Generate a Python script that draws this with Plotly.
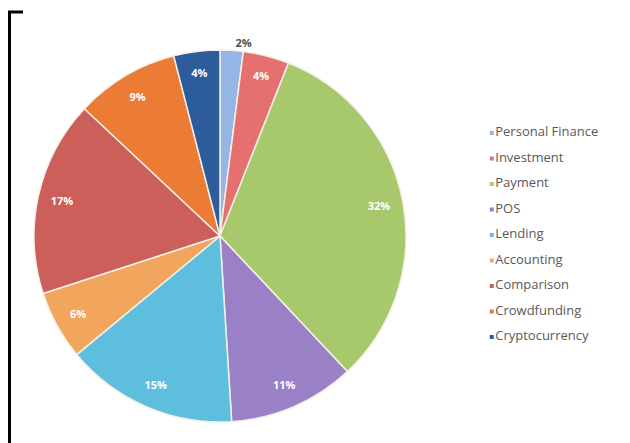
import plotly.graph_objects as go

categories = ["Personal Finance", "Investment", "Payment", "POS", "Lending",
              "Accounting", "Comparison", "Crowdfunding", "Cryptocurrency"]
shares = [2, 4, 32, 11, 15, 6, 17, 9, 4]
colors = ["#93B6E4", "#E4706F", "#A8C96B", "#9A80C6", "#5EBEDD",
          "#F2A55C", "#CD5F5B", "#EC7B36", "#2C5C9C"]

W, H = 630, 443
cx, cy, R = 220, 236, 186

def px_x(v):
    return v / W

def px_y(v):
    return 1 - v / H

dom_x = [px_x(cx - R), px_x(cx + R)]
dom_y = [px_y(cy + R), px_y(cy - R)]

fig = go.Figure()

# main pie (colours)
fig.add_trace(go.Pie(
    labels=categories, values=shares, sort=False, direction="clockwise",
    rotation=0, marker=dict(colors=colors, line=dict(color="#F4F0EA", width=1.5)),
    textinfo="none", showlegend=False, hoverinfo="label+percent",
    domain=dict(x=dom_x, y=dom_y),
))

# transparent ring overlay to place labels near the rim
textpos = ["outside"] + ["inside"] * (len(shares) - 1)
fig.add_trace(go.Pie(
    labels=categories, values=shares, sort=False, direction="clockwise",
    rotation=0, hole=0.74,
    marker=dict(colors=["rgba(0,0,0,0)"] * len(shares), line=dict(width=0)),
    texttemplate="<b>%{value}%</b>", textposition=textpos,
    insidetextorientation="horizontal",
    insidetextfont=dict(color="white", size=11, family="Open Sans"),
    outsidetextfont=dict(color="#505050", size=11, family="Open Sans"),
    showlegend=False, hoverinfo="skip",
    domain=dict(x=dom_x, y=dom_y),
))

# legend as scatter on hidden axes
n = len(categories)
fig.add_trace(go.Scatter(
    x=[0] * n, y=list(range(n - 1, -1, -1)), mode="markers+text",
    text=categories, textposition="middle right",
    marker=dict(symbol="square", size=4, color=colors),
    textfont=dict(size=13, color="#595959", family="Open Sans"),
    showlegend=False, hoverinfo="skip", xaxis="x", yaxis="y",
))

leg_top, leg_bot = 133, 337
step = (leg_bot - leg_top) / (n - 1)
fig.update_layout(
    width=W, height=H, margin=dict(l=0, r=0, t=0, b=0),
    paper_bgcolor="white", plot_bgcolor="rgba(0,0,0,0)",
    xaxis=dict(domain=[px_x(480), 1.0], range=[-0.085, 1.0], visible=False, fixedrange=True),
    yaxis=dict(domain=[px_y(leg_bot + step * 0.5), px_y(leg_top - step * 0.5)],
               range=[-0.5, n - 0.5], visible=False, fixedrange=True),
    shapes=[dict(type="path", xref="paper", yref="paper",
                 path=f"M {px_x(9.5)} {px_y(445)} L {px_x(9.5)} {px_y(12)} L {px_x(23)} {px_y(12)}",
                 line=dict(color="black", width=3))],
)

fig.write_html("out.html")
